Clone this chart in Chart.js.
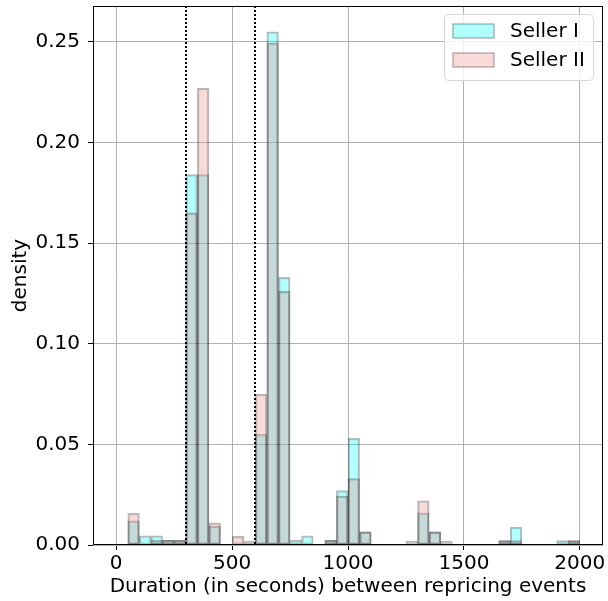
<!DOCTYPE html>
<html>
<head>
<meta charset="utf-8">
<script src="https://cdn.jsdelivr.net/npm/chart.js@4.4.0/dist/chart.umd.min.js"></script>
<style>
  html, body { margin: 0; padding: 0; background: #fff; }
</style>
</head>
<body>
<canvas id="chart" width="608" height="601"></canvas>
<script>
// Histogram bins (centers of 50 s wide bins from 0 to 2000)
const binCenters = [25, 75, 125, 175, 225, 275, 325, 375, 425, 475,
                    525, 575, 625, 675, 725, 775, 825, 875, 925, 975,
                    1025, 1075, 1125, 1175, 1225, 1275, 1325, 1375, 1425, 1475,
                    1525, 1575, 1625, 1675, 1725, 1775, 1825, 1875, 1925, 1975];

// Density per bin
const sellerI = [0, 0.012, 0.0046, 0.0046, 0.0023, 0.0023, 0.184, 0.184, 0.0094, 0,
                 0, 0, 0.055, 0.255, 0.133, 0.0023, 0.0046, 0, 0.0023, 0.027,
                 0.053, 0.0065, 0, 0, 0, 0, 0.016, 0.0065, 0, 0,
                 0, 0, 0, 0.0022, 0.0089, 0, 0, 0, 0.0022, 0.0022];
const sellerII = [0, 0.0157, 0, 0.0023, 0.0023, 0.0023, 0.165, 0.227, 0.011, 0,
                  0.0043, 0.0019, 0.075, 0.2495, 0.126, 0, 0, 0, 0.0023, 0.0243,
                  0.033, 0.0065, 0, 0, 0, 0.0018, 0.022, 0.0065, 0.0018, 0,
                  0, 0, 0, 0.0022, 0.0022, 0, 0, 0, 0, 0.0022];

// Dotted reference lines (seconds)
const thresholds = [300, 600];

// Axis ticks and limits
const xTicks = [0, 500, 1000, 1500, 2000];
const yTicks = [0, 0.05, 0.10, 0.15, 0.20, 0.25];
const xLimits = [-100, 2100];
const yLimits = [0, 0.2678];

Chart.defaults.font.family = 'DejaVu Sans';
Chart.defaults.font.size = 20;
Chart.defaults.color = '#000';

// turn a value list into {x, y} points, leaving empty bins out
function toPoints(values) {
    return binCenters.map((c, i) => ({ x: c, y: values[i] ? values[i] : null }));
}

// Frame, dotted lines and an in-axes legend like matplotlib's
const overlayPlugin = {
    id: 'overlay',
    afterDatasetsDraw(chart) {
        const { ctx, chartArea, scales } = chart;
        ctx.save();

        // dotted vertical lines
        ctx.strokeStyle = '#000';
        ctx.lineWidth = 2;
        ctx.setLineDash([2, 2]);
        thresholds.forEach(t => {
            const x = Math.round(scales.x.getPixelForValue(t));
            ctx.beginPath();
            ctx.moveTo(x, chartArea.top);
            ctx.lineTo(x, chartArea.bottom);
            ctx.stroke();
        });
        ctx.setLineDash([]);

        // axes frame
        ctx.lineWidth = 1;
        ctx.strokeRect(chartArea.left + 0.5, chartArea.top + 0.5, chartArea.width - 1, chartArea.height - 1);

        // legend box
        const boxW = 149, boxH = 66;
        const left = chartArea.right - 10 - boxW;
        const top = chartArea.top + 8;
        ctx.beginPath();
        ctx.roundRect(left + 0.5, top + 0.5, boxW, boxH, 4);
        ctx.fillStyle = 'rgba(255,255,255,0.8)';
        ctx.fill();
        ctx.strokeStyle = '#d6d6d6';
        ctx.stroke();

        ctx.font = '20px "DejaVu Sans"';
        ctx.textBaseline = 'middle';
        chart.data.datasets.forEach((ds, i) => {
            const rowY = top + 17 + i * 29;
            ctx.fillStyle = '#fff';
            ctx.fillRect(left + 9, rowY - 7, 41, 14);
            ctx.fillStyle = ds.backgroundColor;
            ctx.fillRect(left + 9, rowY - 7, 41, 14);
            ctx.strokeStyle = ds.borderColor;
            ctx.lineWidth = 1.5;
            ctx.strokeRect(left + 9, rowY - 7, 41, 14);
            ctx.fillStyle = '#000';
            ctx.fillText(ds.label, left + 66, rowY + 1);
        });

        ctx.restore();
    }
};

new Chart(document.getElementById('chart'), {
    type: 'bar',
    data: {
        datasets: [{
            label: 'Seller I',
            data: toPoints(sellerI),
            backgroundColor: 'rgba(0,255,255,0.3)',
            borderColor: 'rgba(0,0,0,0.28)',
            borderWidth: 1.5,
            borderSkipped: false,
            grouped: false,
            barPercentage: 1,
            categoryPercentage: 1,
            order: 2
        }, {
            label: 'Seller II',
            data: toPoints(sellerII),
            backgroundColor: 'rgba(240,128,128,0.3)',
            borderColor: 'rgba(0,0,0,0.28)',
            borderWidth: 1.5,
            borderSkipped: false,
            grouped: false,
            barPercentage: 1,
            categoryPercentage: 1,
            order: 1
        }]
    },
    options: {
        responsive: false,
        animation: false,
        devicePixelRatio: 1,
        layout: { padding: { left: 0, right: 5, top: 6, bottom: 0 } },
        plugins: {
            legend: { display: false },
            tooltip: { enabled: false }
        },
        scales: {
            x: {
                type: 'linear',
                min: xLimits[0],
                max: xLimits[1],
                offset: false,
                afterBuildTicks: scale => { scale.ticks = xTicks.map(v => ({ value: v })); },
                afterFit: scale => {
                    scale.height = 56;
                    scale.paddingLeft = 0;
                    scale.paddingRight = 0;
                },
                ticks: {
                    padding: 2,
                    maxRotation: 0,
                    callback: v => String(v)
                },
                grid: {
                    offset: false,
                    color: '#b0b0b0',
                    lineWidth: 1,
                    tickColor: '#000',
                    tickLength: 5
                },
                border: { display: false },
                title: {
                    display: true,
                    text: 'Duration (in seconds) between repricing events',
                    padding: { top: 0, bottom: 2 }
                }
            },
            y: {
                min: yLimits[0],
                max: yLimits[1],
                afterBuildTicks: scale => { scale.ticks = yTicks.map(v => ({ value: v })); },
                afterFit: scale => {
                    scale.width = 93;
                    scale.paddingTop = 0;
                    scale.paddingBottom = 0;
                },
                ticks: {
                    padding: 8,
                    callback: v => v.toFixed(2)
                },
                grid: {
                    color: '#b0b0b0',
                    lineWidth: 1,
                    tickColor: '#000',
                    tickLength: 5
                },
                border: { display: false },
                title: {
                    display: true,
                    text: 'density',
                    padding: { top: 9, bottom: 0 }
                }
            }
        }
    },
    plugins: [overlayPlugin]
});
</script>
</body>
</html>
